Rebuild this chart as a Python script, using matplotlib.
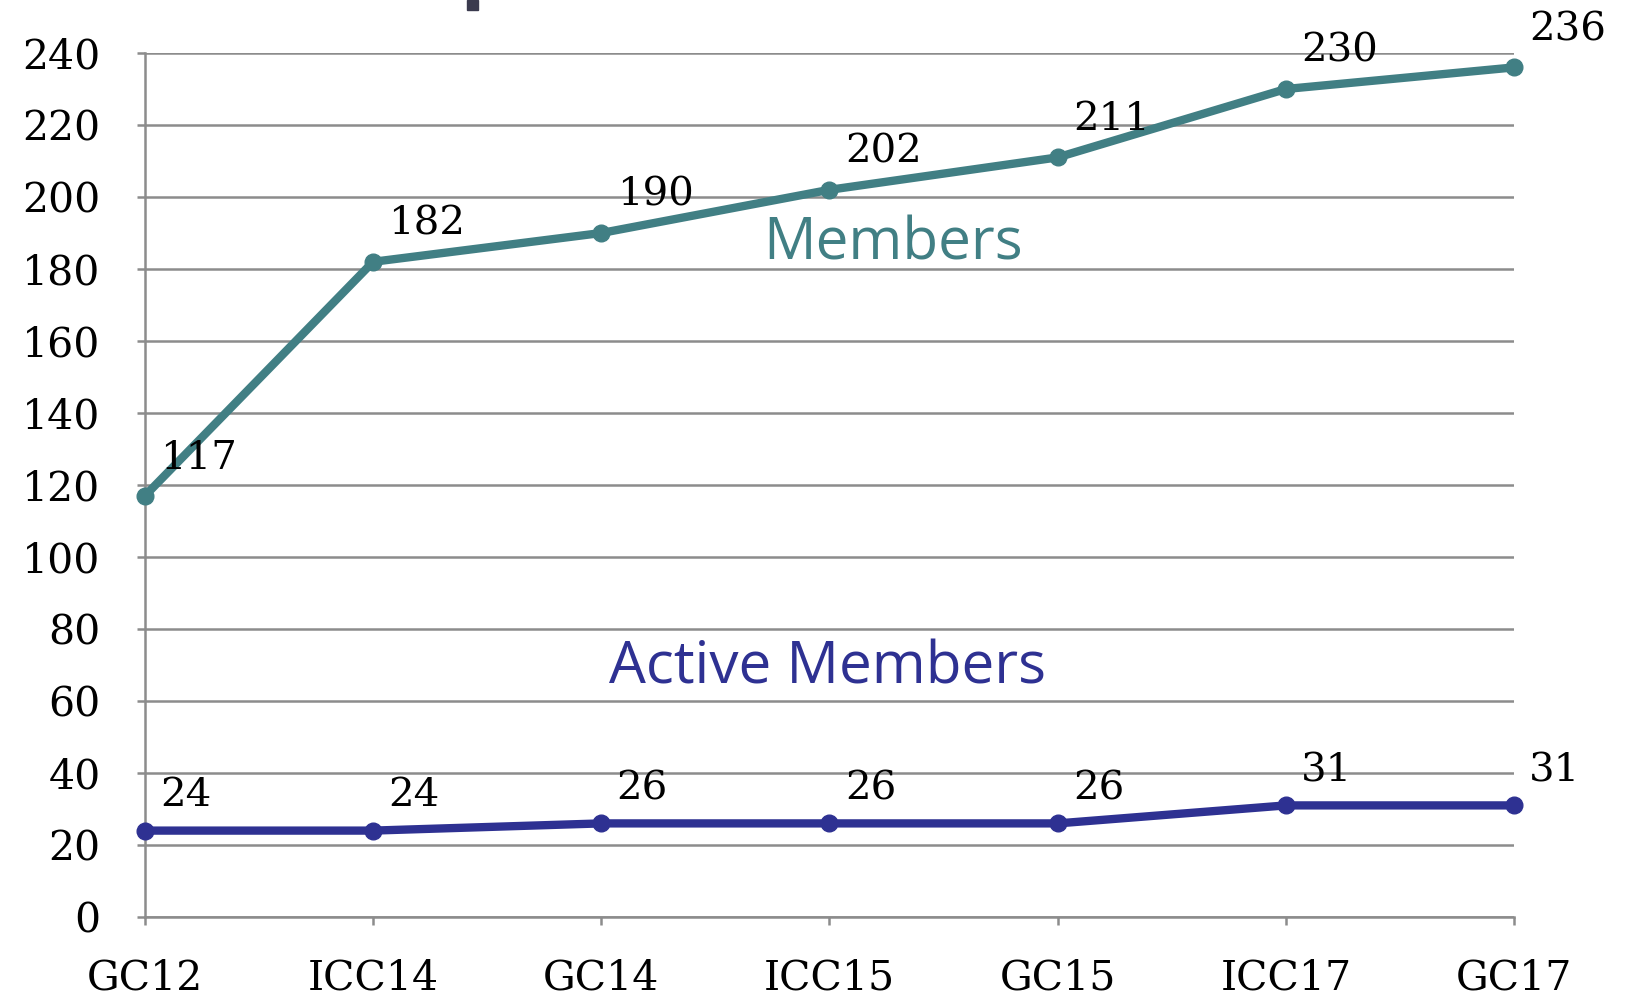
import matplotlib
matplotlib.use("Agg")
import matplotlib.pyplot as plt
from matplotlib.patches import Rectangle

categories = ["GC12", "ICC14", "GC14", "ICC15", "GC15", "ICC17", "GC17"]
members = [117, 182, 190, 202, 211, 230, 236]
active_members = [24, 24, 26, 26, 26, 31, 31]
yticks = list(range(0, 241, 20))

teal = "#417F84"
navy = "#2E3192"
grid_c = "#8C8C8C"

fig = plt.figure(figsize=(16.25, 10), dpi=100)
ax = fig.add_axes([0.0892, 0.083, 0.8425, 0.864])

x = list(range(len(categories)))
ax.plot(x, members, color=teal, lw=6, marker="o", ms=12, zorder=3, clip_on=False)
ax.plot(x, active_members, color=navy, lw=6, marker="o", ms=12, zorder=3, clip_on=False)

for xi, v in zip(x, members):
    ax.annotate(str(v), (xi, v), xytext=(11, 27), textcoords="offset points",
                ha="left", va="center", fontsize=29, family="DejaVu Serif", color="black")
for xi, v in zip(x, active_members):
    ax.annotate(str(v), (xi, v), xytext=(11, 25), textcoords="offset points",
                ha="left", va="center", fontsize=29, family="DejaVu Serif", color="black")

ax.text(3.28, 186.8, "Members", color=teal, fontsize=42, family="Open Sans",
        ha="center", va="center")
ax.text(2.99, 69, "Active Members", color=navy, fontsize=42, family="Open Sans",
        ha="center", va="center")

ax.set_xlim(0, 6)
ax.set_ylim(0, 240)
ax.set_yticks(yticks)
ax.set_xticks(x)
ax.set_xticklabels(categories, family="DejaVu Serif", fontsize=29.5)
ax.set_yticklabels([str(t) for t in yticks], family="DejaVu Serif", fontsize=29.5)
ax.grid(axis="y", color=grid_c, lw=1.8)
ax.set_axisbelow(True)
for s in ["top", "right"]:
    ax.spines[s].set_visible(False)
for s in ["left", "bottom"]:
    ax.spines[s].set_color(grid_c)
    ax.spines[s].set_linewidth(1.8)
ax.tick_params(axis="both", color=grid_c, width=1.8, length=6)
ax.tick_params(axis="y", pad=26)
ax.tick_params(axis="x", pad=24)

# fragment of cut-off title at top
fig.patches.append(Rectangle((467 / 1625, 1 - 10 / 1000), 11 / 1625, 10 / 1000,
                             transform=fig.transFigure, color="#3A3A4E"))

fig.savefig("out.png", dpi=100)
